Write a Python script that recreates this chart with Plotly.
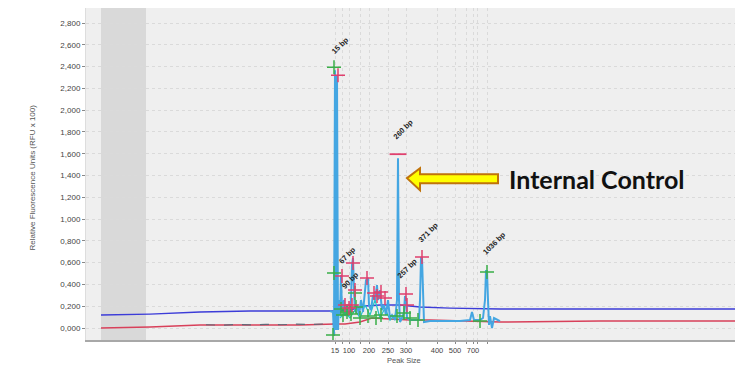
import plotly.graph_objects as go

# Migration position (scan units) and signal in RFU
baseline_blue_x = [15, 64, 114, 164, 214, 249, 264, 279, 294, 314, 334, 364, 414, 514, 649]
baseline_blue_y = [119, 128, 147, 156, 156, 156, 165, 202, 211, 211, 193, 183, 174, 174, 174]

baseline_red_x = [15, 64, 114, 164, 214, 249, 259, 274, 286, 304, 324, 344, 374, 414, 514, 649]
baseline_red_y = [0, 9, 28, 28, 28, 37, 37, 55, 92, 83, 73, 73, 64, 55, 64, 64]

noise_x = [120, 135, 150, 165, 180, 195, 210, 225, 240, 249]
noise_y = [30, 26, 32, 28, 34, 30, 36, 32, 38, 36]

signal_x = [244, 247, 248, 249, 250, 251, 252, 253, 254, 255, 256, 258, 259, 261, 263, 265,
            266, 267, 268, 269, 271, 273, 275, 277, 280, 282, 283, 285, 287, 289, 291, 292,
            294, 296, 298, 300, 302, 304, 306, 309, 311, 312, 313, 314, 316, 318, 319, 320,
            321, 324, 329, 333, 334, 335, 336, 337, 338, 344, 354, 374, 384, 386, 388, 394,
            397, 399, 400, 401, 402, 403, 404, 406, 408, 414]
signal_y = [156, 147, -73, 2366, -18, 2320, -18, 257, 119, 486, 165, 257, 110, 211, 119, 257,
            578, 642, 348, 147, 211, 119, 257, 147, 440, 459, 211, 165, 303, 257, 394, 257,
            348, 165, 211, 119, 257, 92, 119, 73, 257, 1559, 257, 55, 92, 147, 293, 257,
            92, 73, 73, 73, 257, 642, 642, 257, 55, 64, 64, 64, 73, 147, 73, 73,
            92, 257, 523, 523, 257, 28, 110, 0, 92, 64]

cluster_x = [254, 259, 264, 269, 274, 279, 284, 289, 294, 299, 304, 309, 314]
cluster_y = [92, 147, 92, 165, 92, 211, 119, 257, 92, 183, 73, 119, 92]

green_x = [248, 247, 248, 255, 257, 261, 265, 269, 270, 274, 282, 290, 295, 311, 318, 324, 332, 394, 401]
green_y = [2393, -64, 504, 174, 119, 147, 128, 321, 193, 92, 110, 92, 119, 110, 138, 92, 73, 64, 514]

red_x = [252, 256, 267, 269, 259, 263, 266, 281, 288, 291, 295, 299, 320, 321, 336]
red_y = [2320, 477, 596, 348, 211, 183, 211, 459, 321, 293, 330, 275, 312, 211, 651]

ic_x = [312]
ic_y = [1596]

peak_labels = ["15 bp", "260 bp", "67 bp", "90 bp", "257 bp", "371 bp", "1036 bp"]
peak_label_x = [254, 317, 261, 264, 321, 342, 408]
peak_label_y = [2595, 1825, 669, 440, 550, 880, 779]

size_tick_vals = [249, 256, 263, 274, 283, 302, 320, 351, 369, 380, 387, 391, 401]
size_tick_text = ["15", "", "100", "", "200", "250", "300", "400", "500", "", "700", "", ""]

rfu_tick_vals = list(range(0, 2801, 200))
rfu_tick_text = ["0,000", "0,200", "0,400", "0,600", "0,800", "1,000", "1,200", "1,400",
                 "1,600", "1,800", "2,000", "2,200", "2,400", "2,600", "2,800"]

fig = go.Figure()

fig.add_trace(go.Scatter(x=baseline_red_x, y=baseline_red_y, mode="lines",
                         line=dict(color="#d8405a", width=1.4), hoverinfo="skip"))
fig.add_trace(go.Scatter(x=noise_x, y=noise_y, mode="lines",
                         line=dict(color="#606878", width=1.2, dash="dash"), hoverinfo="skip"))
fig.add_trace(go.Scatter(x=baseline_blue_x, y=baseline_blue_y, mode="lines",
                         line=dict(color="#3c3cd8", width=1.4), hoverinfo="skip"))
fig.add_trace(go.Scatter(x=cluster_x, y=cluster_y, mode="lines",
                         line=dict(color="#22c4c8", width=1.2), hoverinfo="skip"))
fig.add_trace(go.Scatter(x=signal_x, y=signal_y, mode="lines",
                         line=dict(color="#44a6e2", width=2), hoverinfo="skip"))
fig.add_trace(go.Scatter(x=green_x, y=green_y, mode="markers",
                         marker=dict(symbol="cross-thin", size=10,
                                     line=dict(color="#3aae48", width=1.5)), hoverinfo="skip"))
fig.add_trace(go.Scatter(x=red_x, y=red_y, mode="markers",
                         marker=dict(symbol="cross-thin", size=10,
                                     line=dict(color="#e0406e", width=1.5)), hoverinfo="skip"))
fig.add_trace(go.Scatter(x=ic_x, y=ic_y, mode="markers",
                         marker=dict(symbol="line-ew", size=12,
                                     line=dict(color="#e0406e", width=1.8)), hoverinfo="skip"))

# shaded region at the start of the run
fig.add_shape(type="rect", xref="x", yref="paper", x0=15, x1=60, y0=0, y1=1,
              fillcolor="#d9d9d9", line=dict(width=0), layer="below")

# arrow pointing to the internal control peak
fig.add_shape(type="path",
              path="M321,1376 L334,1467 L334,1412 L412,1412 L412,1330 L334,1330 L334,1265 Z",
              xref="x", yref="y", fillcolor="#ffff00", line=dict(color="#c0730a", width=2))
fig.add_annotation(x=421, y=1366, xref="x", yref="y", text="<b>Internal Control</b>",
                   showarrow=False, xanchor="left", yanchor="middle",
                   font=dict(family="Lato", size=25, color="#111111"))

for txt, lx, ly in zip(peak_labels, peak_label_x, peak_label_y):
    fig.add_annotation(x=lx, y=ly, xref="x", yref="y", text="<b>" + txt + "</b>",
                       showarrow=False, textangle=-45, xanchor="center", yanchor="middle",
                       font=dict(family="Liberation Sans", size=7.5, color="#222222"))

fig.add_annotation(x=-0.083, y=0.49, xref="paper", yref="paper",
                   text="Relative Fluorescence Units (RFU x 100)",
                   showarrow=False, textangle=-90, xanchor="center", yanchor="middle",
                   font=dict(family="Liberation Sans", size=8, color="#555555"))
fig.add_annotation(x=318, y=-0.081, xref="x", yref="paper", text="Peak Size",
                   showarrow=False, xanchor="center", yanchor="bottom",
                   font=dict(family="Liberation Sans", size=7.5, color="#555555"))

fig.update_layout(
    width=735, height=367,
    margin=dict(l=86, r=0, t=8, b=27),
    paper_bgcolor="white", plot_bgcolor="#efefef",
    showlegend=False,
    xaxis=dict(range=[0, 649], tickmode="array", tickvals=size_tick_vals, ticktext=size_tick_text,
               ticks="outside", ticklen=2, tickcolor="#888888",
               showgrid=True, gridcolor="#dadada", griddash="dot", gridwidth=1,
               zeroline=False, showline=True, linecolor="#a8a8a8", linewidth=2,
               tickfont=dict(family="Liberation Sans", size=7.5, color="#444444")),
    yaxis=dict(range=[-110, 2938], tickmode="array", tickvals=rfu_tick_vals, ticktext=rfu_tick_text,
               ticks="outside", ticklen=3, tickcolor="#888888",
               showgrid=True, gridcolor="#dadada", griddash="dot", gridwidth=1,
               zeroline=False, showline=True, linecolor="#dddddd", linewidth=1,
               tickfont=dict(family="Liberation Sans", size=8, color="#444444")),
)

fig.write_html("out.html")
